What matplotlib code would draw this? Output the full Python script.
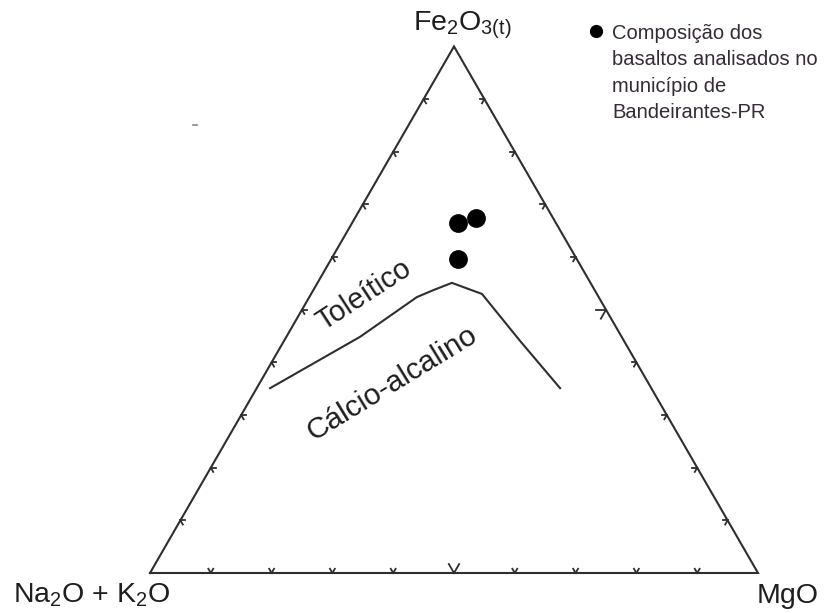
import numpy as np
import matplotlib
matplotlib.use("Agg")
import matplotlib.pyplot as plt

plt.rcParams['font.family'] = ['Liberation Sans', 'DejaVu Sans']
plt.rcParams['mathtext.fontset'] = 'custom'
plt.rcParams['mathtext.rm'] = 'Liberation Sans'
plt.rcParams['mathtext.it'] = 'Liberation Sans'

# AFM ternary data (percent): A = Na2O + K2O, F = Fe2O3(t), M = MgO
sample_A = [16.1, 12.7, 19.5]
sample_F = [66.5, 67.4, 59.6]
sample_M = [17.4, 19.9, 20.9]

# Tholeiitic / calc-alkaline boundary
boundary_A = [62.7, 43.0, 29.9, 26.6, 22.8, 18.9, 17.1, 15.0]
boundary_F = [35.1, 44.8, 52.4, 53.7, 55.1, 53.0, 44.1, 35.1]
boundary_M = [2.2, 12.1, 17.7, 19.7, 22.1, 28.1, 38.8, 49.9]

tick_fractions = [0.1, 0.2, 0.3, 0.4, 0.5, 0.6, 0.7, 0.8, 0.9]

label_A = "Na$_2$O + K$_2$O"
label_F = "Fe$_2$O$_{3(t)}$"
label_M = "MgO"
series_label = "Composição dos\nbasaltos analisados no\nmunicípio de\nBandeirantes-PR"

H = np.sqrt(3) / 2


def to_xy(a, f, m):
    a, f, m = (np.asarray(v, float) for v in (a, f, m))
    s = a + f + m
    f, m = f / s, m / s
    return m + f / 2, f * H


fig = plt.figure(figsize=(8.28, 6.13), dpi=100)
ax = fig.add_axes([0, 0, 1, 1])
ax.set_xlim(-150 / 608, 678 / 608)
ax.set_ylim(-40 / 608, 573 / 608)
ax.set_aspect('equal')
ax.axis('off')

line_col = '#2e2e2e'
text_col = '#1e1e1e'

# triangle frame
tx, ty = to_xy([100, 0, 0, 100], [0, 0, 100, 0], [0, 100, 0, 0])
ax.plot(tx, ty, color=line_col, lw=1.5, solid_joinstyle='miter')


def chevron(px, py, normal_deg, size):
    for d in (-30, 30):
        ang = np.radians(normal_deg + d)
        ax.plot([px, px + size * np.cos(ang)], [py, py + size * np.sin(ang)],
                color=line_col, lw=1.3)


small, big = 0.008, 0.017
for t in tick_fractions:
    mid = abs(t - 0.5) < 1e-9
    # bottom edge (A -> M)
    bx, by = to_xy(1 - t, 0, t)
    chevron(bx, by, 90, big if mid else small)
    # left edge (A -> F)
    lx, ly = to_xy(1 - t, t, 0)
    chevron(lx, ly, -30, small)
    # right edge (M -> F)
    rx, ry = to_xy(0, t, 1 - t)
    chevron(rx, ry, 210, big if mid else small)

# boundary line
bx, by = to_xy(boundary_A, boundary_F, boundary_M)
ax.plot(bx, by, color=line_col, lw=1.5)

# samples
sx, sy = to_xy(sample_A, sample_F, sample_M)
ax.plot(sx, sy, 'o', color='black', ms=12.5, mec='black')

# field labels
ax.text(0.352, 0.457, "Toleítico", rotation=33, rotation_mode='anchor',
        ha='center', va='center', fontsize=21, color=text_col)
ax.text(0.398, 0.311, "Cálcio-alcalino", rotation=31.5, rotation_mode='anchor',
        ha='center', va='center', fontsize=21.5, color=text_col)

# vertex labels
ax.text(0.4326, 0.893, label_F, ha='left', va='baseline', fontsize=20.5, color=text_col)
ax.text(-0.2253, -0.0493, label_A, ha='left', va='baseline', fontsize=20.5, color=text_col)
ax.text(0.998, -0.0493, label_M, ha='left', va='baseline', fontsize=20.5, color=text_col)

# legend
ax.plot([0.7336], [0.8914], 'o', color='black', ms=8.5)
ax.text(0.7599, 0.9035, series_label, ha='left', va='top', fontsize=14.5,
        linespacing=1.5, color='#352a35')

# small stray mark
ax.plot([0.070, 0.078], [0.737, 0.737], color='#888888', lw=1.2)

fig.savefig("out.png", dpi=100, facecolor='white')
